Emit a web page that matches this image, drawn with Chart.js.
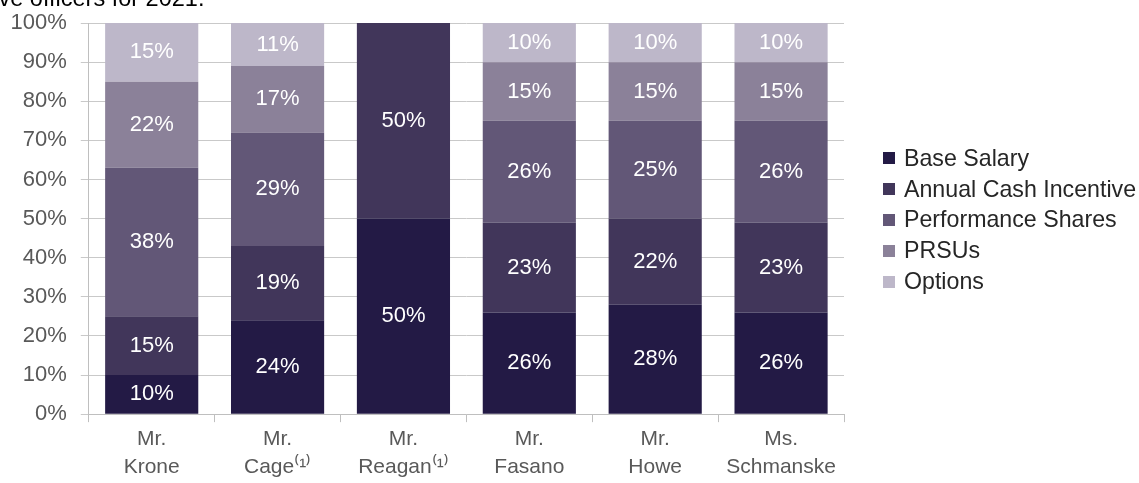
<!DOCTYPE html>
<html>
<head>
<meta charset="utf-8">
<script src="https://cdn.jsdelivr.net/npm/chart.js@4/dist/chart.umd.min.js"></script>
<style>
  body { margin: 0; background: #fff; font-family: "Liberation Sans", Arial, sans-serif; }
  #wrap { position: relative; width: 1139px; height: 483px; overflow: hidden; }
  #caption { position: absolute; left: -76px; top: -14px; font-size: 23.5px; line-height: 24px; color: #000; white-space: nowrap; }
  #legend { position: absolute; left: 883px; top: 143px; }
  #legend ul { list-style: none; margin: 0; padding: 0; }
  #legend li { display: flex; align-items: center; height: 30.8px; font-size: 23.2px; color: #262626; white-space: nowrap; }
  #legend span.box { display: inline-block; width: 12px; height: 12px; margin-right: 9px; }
</style>
</head>
<body>
<div id="wrap">
  <div id="caption">executive officers for 2021.</div>
  <canvas id="chart"></canvas>
  <div id="legend"></div>
</div>
<script>
const categories = [
  ["Mr.", "Krone"],
  ["Mr.", "Cage⁽¹⁾"],
  ["Mr.", "Reagan⁽¹⁾"],
  ["Mr.", "Fasano"],
  ["Mr.", "Howe"],
  ["Ms.", "Schmanske"],
];
const seriesNames = ["Base Salary", "Annual Cash Incentive", "Performance Shares", "PRSUs", "Options"];
const baseSalary = [10, 24, 50, 26, 28, 26];
const annualCash = [15, 19, 50, 23, 22, 23];
const perfShares = [38, 29, 0, 26, 25, 26];
const prsus = [22, 17, 0, 15, 15, 15];
const options = [15, 11, 0, 10, 10, 10];
const colors = ["#231a45", "#41365a", "#625777", "#8b8199", "#bdb7c9"];

// white % labels in the middle of each segment
const segmentLabels = {
  id: "segmentLabels",
  afterDatasetsDraw(chart) {
    const ctx = chart.ctx;
    ctx.save();
    ctx.font = '22px "Liberation Sans", Arial, sans-serif';
    ctx.fillStyle = "#ffffff";
    ctx.textAlign = "center";
    ctx.textBaseline = "middle";
    chart.data.datasets.forEach((ds, i) => {
      chart.getDatasetMeta(i).data.forEach((bar, j) => {
        const v = ds.data[j];
        if (!v) return;
        ctx.fillText(v + "%", bar.x, (bar.y + bar.base) / 2);
      });
    });
    ctx.restore();
  },
};

const htmlLegend = {
  id: "htmlLegend",
  afterUpdate(chart) {
    const el = document.getElementById("legend");
    el.innerHTML = "";
    const ul = document.createElement("ul");
    chart.data.datasets.forEach((ds) => {
      const li = document.createElement("li");
      const box = document.createElement("span");
      box.className = "box";
      box.style.background = ds.backgroundColor;
      li.appendChild(box);
      li.appendChild(document.createTextNode(ds.label));
      ul.appendChild(li);
    });
    el.appendChild(ul);
  },
};

const values = [baseSalary, annualCash, perfShares, prsus, options];
const fam = '"Liberation Sans", Arial, sans-serif';

new Chart(document.getElementById("chart"), {
  type: "bar",
  data: {
    labels: categories,
    datasets: seriesNames.map((name, i) => ({
      label: name,
      data: values[i],
      backgroundColor: colors[i],
      barPercentage: 0.74,
      categoryPercentage: 1,
    })),
  },
  options: {
    responsive: true,
    maintainAspectRatio: false,
    animation: false,
    layout: { padding: { left: -3.5, top: 0, right: 295, bottom: -1 } },
    plugins: {
      legend: { display: false },
      tooltip: { enabled: false },
    },
    scales: {
      x: {
        stacked: true,
        grid: { display: true, drawOnChartArea: false, offset: true, tickLength: 8, color: "#bfbfbf" },
        border: { color: "#bfbfbf" },
        ticks: { color: "#595959", font: { family: fam, size: 21, lineHeight: 1.33 }, padding: 3, maxRotation: 0 },
      },
      y: {
        stacked: true,
        min: 0,
        max: 100,
        grid: { color: "#c9c9c9", tickLength: 8 },
        border: { color: "#bfbfbf" },
        // small lineHeight only trims the top margin chart.js reserves for the 100% label
        ticks: { stepSize: 10, color: "#595959", font: { family: fam, size: 22, lineHeight: 0.82 }, padding: 14, callback: (v) => v + "%" },
      },
    },
  },
  plugins: [segmentLabels, htmlLegend],
});
</script>
</body>
</html>
